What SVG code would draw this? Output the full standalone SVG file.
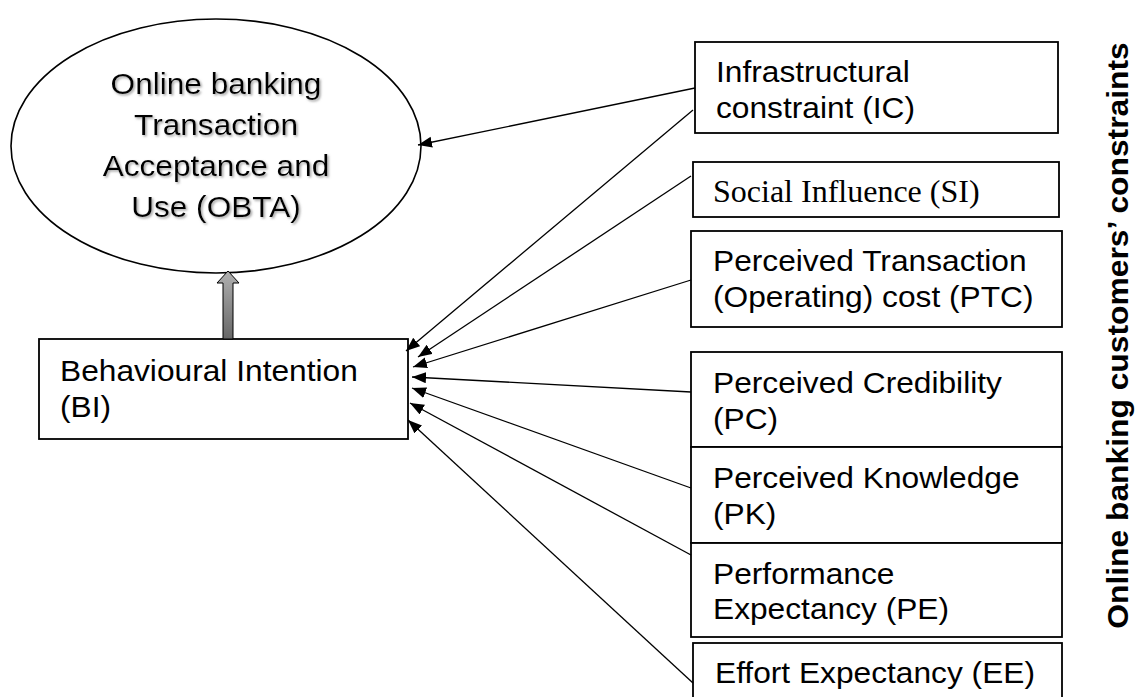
<svg xmlns="http://www.w3.org/2000/svg" width="1140" height="697" viewBox="0 0 1140 697">
<style>
  .box{fill:#fff;stroke:#000;stroke-width:1.8}
  .t{font-family:"Liberation Sans",Arial,sans-serif;font-size:29.5px;fill:#000}
  .te{font-family:"Liberation Sans",Arial,sans-serif;font-size:29px;fill:#000;text-anchor:middle}
  .ts{font-family:"Liberation Serif","Times New Roman",serif;font-size:32px;fill:#000}
  .tv{font-family:"Liberation Sans",Arial,sans-serif;font-size:30px;font-weight:bold;fill:#000;text-anchor:middle}
  .conn line{stroke:#000;stroke-width:1.3;fill:none}
</style>
<defs>
  <marker id="ah" markerUnits="userSpaceOnUse" markerWidth="15" markerHeight="12" refX="14" refY="5.5" orient="auto">
    <path d="M0,0 L14,5.5 L0,11 z" fill="#000"/>
  </marker>
  <linearGradient id="grey" x1="0" y1="0" x2="0" y2="1">
    <stop offset="0" stop-color="#b0b0b0"/>
    <stop offset="1" stop-color="#676767"/>
  </linearGradient>
  <filter id="shadow" x="-10%" y="-10%" width="130%" height="140%">
    <feDropShadow dx="1.5" dy="1.5" stdDeviation="0.8" flood-color="#999" flood-opacity="0.9"/>
  </filter>
</defs>
<rect width="1140" height="697" fill="#fff"/>

<g id="OBTA">
  <ellipse cx="216" cy="146" rx="205" ry="127" fill="#fff" stroke="#000" stroke-width="1.6"/>
  <g filter="url(#shadow)">
    <text class="te" transform="translate(216,94) scale(1.09,1)">Online banking</text>
    <text class="te" transform="translate(216,135) scale(1.09,1)">Transaction</text>
    <text class="te" transform="translate(216,176) scale(1.09,1)">Acceptance and</text>
    <text class="te" transform="translate(216,217) scale(1.09,1)">Use (OBTA)</text>
  </g>
</g>

<g id="BI">
  <rect class="box" x="39" y="339" width="369" height="100"/>
  <text class="t" transform="translate(60,381) scale(1.075,1)"><tspan x="0" y="0">Behavioural Intention</tspan><tspan x="0" y="36.5">(BI)</tspan></text>
</g>

<g id="IC">
  <rect class="box" x="695" y="42" width="363" height="91"/>
  <text class="t" transform="translate(716,82) scale(1.075,1)"><tspan x="0" y="0">Infrastructural</tspan><tspan x="0" y="36">constraint (IC)</tspan></text>
</g>

<g id="SI">
  <rect class="box" x="693" y="162" width="366" height="55"/>
  <text class="ts" x="713" y="202">Social Influence (SI)</text>
</g>

<g id="PTC">
  <rect class="box" x="691" y="231" width="371" height="96"/>
  <text class="t" transform="translate(713,271) scale(1.075,1)"><tspan x="0" y="0">Perceived Transaction</tspan><tspan x="0" y="36.5">(Operating) cost (PTC)</tspan></text>
</g>

<g id="PC">
  <rect class="box" x="691" y="352" width="371" height="95"/>
  <text class="t" transform="translate(713,393) scale(1.075,1)"><tspan x="0" y="0">Perceived Credibility</tspan><tspan x="0" y="36">(PC)</tspan></text>
</g>

<g id="PK">
  <rect class="box" x="691" y="447" width="371" height="96"/>
  <text class="t" transform="translate(713,488) scale(1.075,1)"><tspan x="0" y="0">Perceived Knowledge</tspan><tspan x="0" y="36">(PK)</tspan></text>
</g>

<g id="PE">
  <rect class="box" x="691" y="543" width="371" height="94"/>
  <text class="t" transform="translate(713,584) scale(1.075,1)"><tspan x="0" y="0">Performance</tspan><tspan x="0" y="35">Expectancy (PE)</tspan></text>
</g>

<g id="EE">
  <rect class="box" x="693" y="643" width="369" height="70"/>
  <text class="t" transform="translate(715,683) scale(1.075,1)">Effort Expectancy (EE)</text>
</g>

<g id="label">
  <text class="tv" transform="translate(1128,335.5) rotate(-90) scale(1.06,1)">Online banking customers’ constraints</text>
</g>

<g id="connectors" class="conn">
  <path d="M223,339 L223,283 L217,283 L228,271 L239,283 L233,283 L233,339 Z" fill="url(#grey)" stroke="#000" stroke-width="1"/>
  <line x1="695" y1="88" x2="418" y2="145" marker-end="url(#ah)"/>
  <line x1="693" y1="110" x2="406" y2="351" marker-end="url(#ah)"/>
  <line x1="691" y1="176" x2="418" y2="357" marker-end="url(#ah)"/>
  <line x1="691" y1="280" x2="413" y2="367" marker-end="url(#ah)"/>
  <line x1="691" y1="392" x2="412" y2="377" marker-end="url(#ah)"/>
  <line x1="691" y1="488" x2="412" y2="388" marker-end="url(#ah)"/>
  <line x1="691" y1="555" x2="410" y2="403" marker-end="url(#ah)"/>
  <line x1="693" y1="683" x2="408" y2="420" marker-end="url(#ah)"/>
</g>
</svg>
